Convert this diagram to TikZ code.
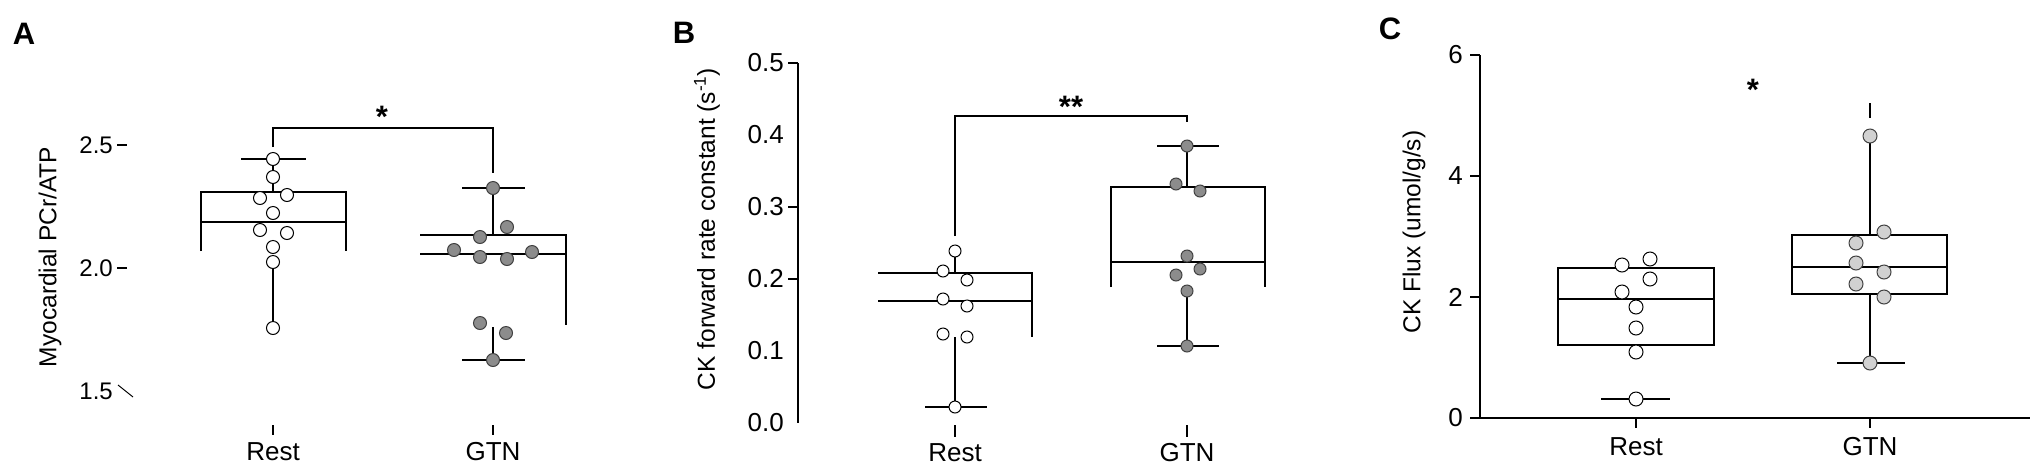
\documentclass[tikz,border=0pt]{standalone}
\usepackage{fontspec}
\setmainfont{Liberation Sans}
\usetikzlibrary{positioning}

\begin{document}
\begin{tikzpicture}[x=1pt,y=-1pt,
	plotline/.style={line width=1.25pt},
	restdot/.style={draw=black,fill=white,line width=1pt},
	gtndot/.style={draw=black!75,fill=black!45,line width=1pt},
	gtnlight/.style={draw=black!75,fill=black!18,line width=1pt},
	ticklabel/.style={anchor=east,inner sep=0pt,font=\fontsize{24}{28}\selectfont},
	bigtick/.style={ticklabel,font=\fontsize{26}{30}\selectfont},
	grouplabel/.style={inner sep=0pt,font=\fontsize{26}{30}\selectfont},
	axistitle/.style={rotate=90,inner sep=0pt,font=\fontsize{24.5}{28}\selectfont},
	panellabel/.style={inner sep=0pt,font=\fontsize{31}{34}\selectfont\bfseries},
	signif/.style={anchor=base,inner sep=0pt,font=\fontsize{31}{32}\selectfont\bfseries}]

	\useasboundingbox (0,0) rectangle (2033,467);

	% panel A
	\node [panellabel] (labA) at (24,34) {A};
	\node [axistitle] (titleA) at (50,257) {Myocardial PCr/ATP};
	\node [ticklabel] (tickA25) at (113,145) {2.5};
	\node [ticklabel] (tickA20) at (113,268) {2.0};
	\node [ticklabel] (tickA15) at (113,391) {1.5};
	\draw [plotline] (117,145) -- (127,145);
	\draw [plotline] (117,268) -- (127,268);
	\draw [line width=1pt] (118,385) -- (133,397);

	\draw [plotline] (273,147) -- (273,128) -- (493,128) -- (493,173);
	\node [signif] (sigA) at (382,127) {*};

	\draw [plotline] (241,159) -- (306,159);
	\draw [plotline] (273,159) -- (273,192);
	\draw [plotline] (201,251) -- (201,192) -- (346,192) -- (346,251);
	\draw [plotline] (201,222) -- (346,222);
	\draw [plotline] (273,262) -- (273,328);

	\draw [plotline] (462,188) -- (525,188);
	\draw [plotline] (493,188) -- (493,235);
	\draw [plotline] (420,235) -- (566,235) -- (566,325);
	\draw [plotline] (420,254) -- (566,254);
	\draw [plotline] (493,327) -- (493,360);
	\draw [plotline] (462,360) -- (525,360);

	\filldraw
		[restdot] (273,159) circle (6.5pt) (273,177) circle (6.5pt)
		(260,198) circle (6.5pt) (287,195) circle (6.5pt) (273,213) circle (6.5pt)
		(260,230) circle (6.5pt) (287,233) circle (6.5pt) (273,247) circle (6.5pt)
		(273,262) circle (6.5pt) (273,328) circle (6.5pt);

	\filldraw
		[gtndot] (493,188) circle (6.5pt) (507,227) circle (6.5pt)
		(480,237) circle (6.5pt) (454,250) circle (6.5pt) (480,257) circle (6.5pt)
		(507,259) circle (6.5pt) (532,252) circle (6.5pt) (480,323) circle (6.5pt)
		(506,333) circle (6.5pt) (493,360) circle (6.5pt);

	\draw [plotline] (273,425) -- (273,435);
	\draw [plotline] (493,425) -- (493,435);
	\node [grouplabel] (restA) at (273,452) {Rest};
	\node [grouplabel] (gtnA) at (493,452) {GTN};

	% panel B
	\node [panellabel] (labB) at (684,33) {B};
	\node [axistitle] (titleB) at (707,229) {CK forward rate constant (s\textsuperscript{-1})};
	\draw [plotline] (798,63) -- (798,423);
	\draw [plotline] (788,63) -- (798,63);
	\draw [plotline] (788,207) -- (798,207);
	\draw [plotline] (788,279) -- (798,279);
	\node [bigtick] (tickB5) at (784,63) {0.5};
	\node [bigtick] (tickB4) at (784,135) {0.4};
	\node [bigtick] (tickB3) at (784,207) {0.3};
	\node [bigtick] (tickB2) at (784,279) {0.2};
	\node [bigtick] (tickB1) at (784,351) {0.1};
	\node [bigtick] (tickB0) at (784,423) {0.0};

	\draw [plotline] (955,236) -- (955,116) -- (1187,116) -- (1187,122);
	\node [signif] (sigB) at (1071,117) {**};

	\draw [plotline] (955,251) -- (955,273);
	\draw [plotline] (878,273) -- (1032,273) -- (1032,337);
	\draw [plotline] (878,301) -- (1032,301);
	\draw [plotline] (955,337) -- (955,407);
	\draw [plotline] (925,407) -- (987,407);

	\draw [plotline] (1157,146) -- (1219,146);
	\draw [plotline] (1187,146) -- (1187,187);
	\draw [plotline] (1111,287) -- (1111,187) -- (1265,187) -- (1265,287);
	\draw [plotline] (1111,262) -- (1265,262);
	\draw [plotline] (1187,291) -- (1187,346);
	\draw [plotline] (1157,346) -- (1219,346);

	\filldraw
		[restdot] (955,251) circle (6pt) (943,271) circle (6pt)
		(967,280) circle (6pt) (943,299) circle (6pt) (967,306) circle (6pt)
		(943,334) circle (6pt) (967,337) circle (6pt) (955,407) circle (6pt);

	\filldraw
		[gtndot] (1187,146) circle (6pt) (1176,184) circle (6pt)
		(1200,191) circle (6pt) (1187,256) circle (6pt) (1200,269) circle (6pt)
		(1176,275) circle (6pt) (1187,291) circle (6pt) (1187,346) circle (6pt);

	\draw [plotline] (955,425) -- (955,437);
	\draw [plotline] (1187,425) -- (1187,437);
	\node [grouplabel] (restB) at (955,453) {Rest};
	\node [grouplabel] (gtnB) at (1187,453) {GTN};

	% panel C
	\node [panellabel] (labC) at (1390,29) {C};
	\node [axistitle] (titleC) at (1414,232) {CK Flux (umol/g/s)};
	\draw [plotline] (1480,55) -- (1480,418) -- (2030,418);
	\draw [plotline] (1470,55) -- (1480,55);
	\draw [plotline] (1470,176) -- (1480,176);
	\draw [plotline] (1470,297) -- (1480,297);
	\draw [plotline] (1470,418) -- (1480,418);
	\node [bigtick] (tickC6) at (1463,55) {6};
	\node [bigtick] (tickC4) at (1463,176) {4};
	\node [bigtick] (tickC2) at (1463,297) {2};
	\node [bigtick] (tickC0) at (1463,418) {0};

	\node [signif] (sigC) at (1753,100) {*};

	\draw [plotline] (1558,268) rectangle (1714,345);
	\draw [plotline] (1558,299) -- (1714,299);
	\draw [plotline] (1601,399) -- (1670,399);

	\draw [plotline] (1870,103) -- (1870,118);
	\draw [plotline] (1870,136) -- (1870,235);
	\draw [plotline] (1792,235) rectangle (1947,294);
	\draw [plotline] (1792,267) -- (1947,267);
	\draw [plotline] (1870,294) -- (1870,363);
	\draw [plotline] (1837,363) -- (1905,363);

	\filldraw
		[restdot] (1622,265) circle (7pt) (1650,259) circle (7pt)
		(1650,279) circle (7pt) (1622,292) circle (7pt) (1636,307) circle (7pt)
		(1636,328) circle (7pt) (1636,352) circle (7pt) (1636,399) circle (7pt);

	\filldraw
		[gtnlight] (1870,136) circle (7pt) (1884,232) circle (7pt)
		(1856,243) circle (7pt) (1856,263) circle (7pt) (1884,272) circle (7pt)
		(1856,284) circle (7pt) (1884,297) circle (7pt) (1870,363) circle (7pt);

	\draw [plotline] (1636,418) -- (1636,428);
	\draw [plotline] (1870,418) -- (1870,428);
	\node [grouplabel] (restC) at (1636,447) {Rest};
	\node [grouplabel] (gtnC) at (1870,447) {GTN};
\end{tikzpicture}
\end{document}
